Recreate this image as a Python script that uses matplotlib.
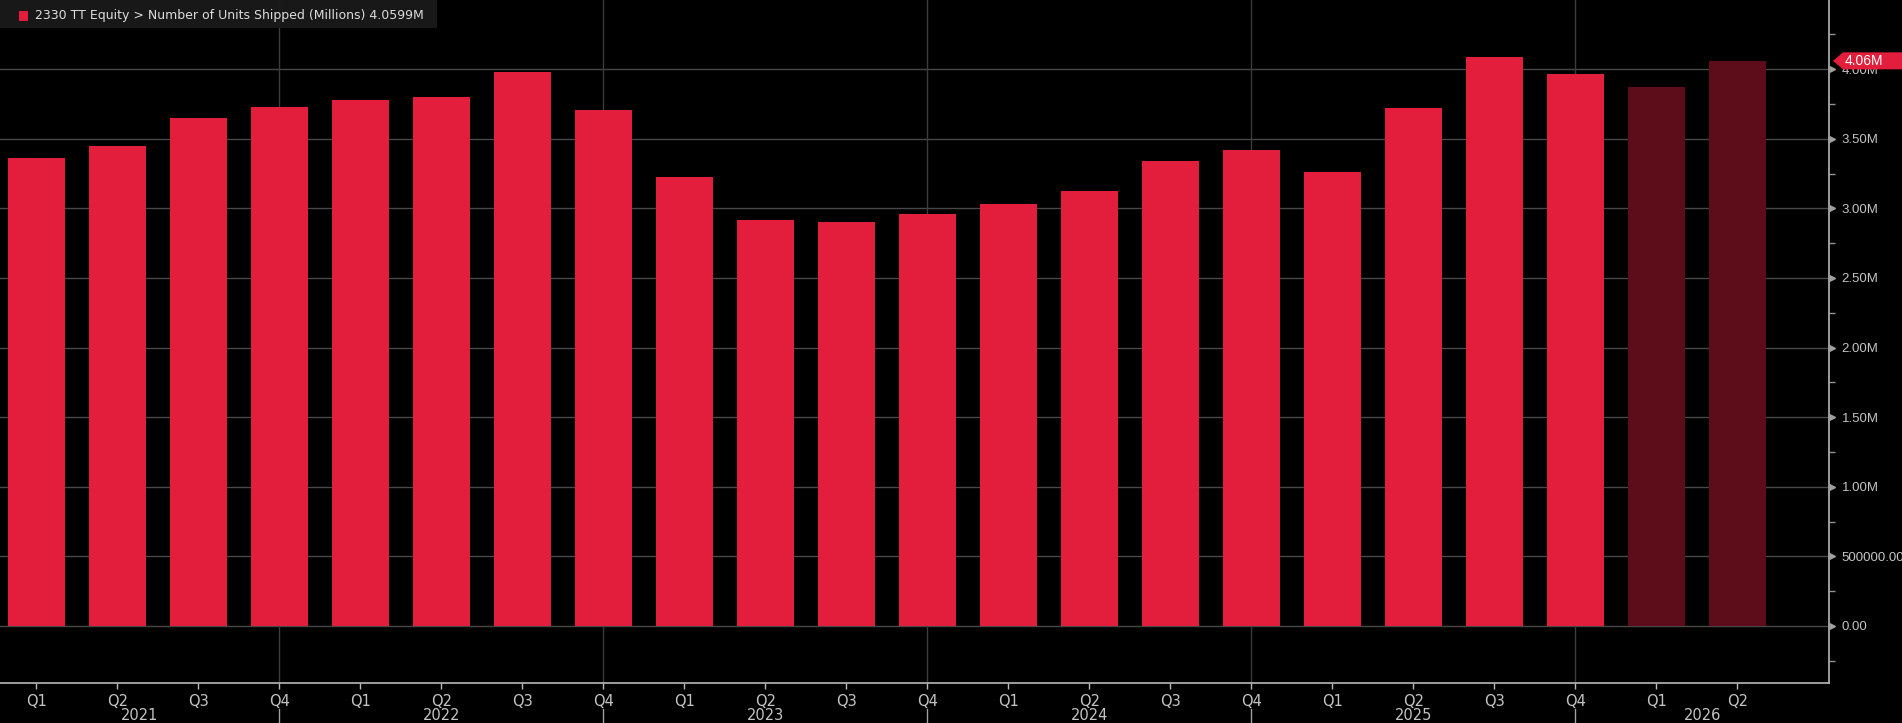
import matplotlib
matplotlib.use("Agg")
import matplotlib.pyplot as plt
from matplotlib.patches import Polygon, Rectangle
from matplotlib.transforms import blended_transform_factory

# ---- data ----
quarters = ["Q1", "Q2", "Q3", "Q4"] * 5 + ["Q1", "Q2"]
years = ["2021", "2022", "2023", "2024", "2025", "2026"]
units_m = [3.364, 3.450, 3.651, 3.730, 3.780, 3.801, 3.981, 3.708,
           3.227, 2.919, 2.904, 2.962, 3.033, 3.127, 3.342, 3.421,
           3.261, 3.722, 4.089, 3.966, 3.873, 4.0599]
is_estimate = [False] * 20 + [True, True]
ytick_vals = [0.0, 0.5, 1.0, 1.5, 2.0, 2.5, 3.0, 3.5, 4.0]
ytick_labels = ["0.00", "500000.00", "1.00M", "1.50M", "2.00M", "2.50M",
                "3.00M", "3.50M", "4.00M"]
legend_text = "2330 TT Equity > Number of Units Shipped (Millions) 4.0599M"
last_label = "4.06M"

RED = "#e31e3c"
DARK = "#5d0c19"
GRID = "#3c3c3c"
AXC = "#b8b8b8"
TXT = "#c4c4c4"
NARROW = ["DejaVu Sans Condensed", "DejaVu Sans"]

W, H = 1902, 723
fig = plt.figure(figsize=(W / 100, H / 100), dpi=100, facecolor="black")
ax = fig.add_axes([0, 1 - 683 / H, 1829 / W, 683 / H])
ax.set_facecolor("black")

n = len(units_m)
xs = list(range(n))
colors = [DARK if e else RED for e in is_estimate]
ax.bar(xs, units_m, width=0.70, color=colors, zorder=2)

ax.set_xlim(-0.45, 22.13)
ax.set_ylim(-0.41, 4.497)

# horizontal grid at major ticks
for v in ytick_vals:
    ax.axhline(v, color="#484848", lw=1.0, zorder=1)
# vertical year dividers at Q4 positions
q4_pos = [i for i, q in enumerate(quarters) if q == "Q4"]
for p in q4_pos:
    ax.axvline(p, color=GRID, lw=1.0, zorder=1)

# spines
for s in ["top", "left"]:
    ax.spines[s].set_visible(False)
ax.spines["right"].set_color(AXC)
ax.spines["bottom"].set_color(AXC)
ax.spines["right"].set_linewidth(1.2)
ax.spines["bottom"].set_linewidth(1.2)

# y axis on right
ax.yaxis.tick_right()
ax.set_yticks(ytick_vals)
ax.set_yticklabels(ytick_labels)
ax.set_yticks([-0.25, 0.25, 0.75, 1.25, 1.75, 2.25, 2.75, 3.25, 3.75, 4.25], minor=True)
ax.tick_params(axis="y", which="major", length=0, pad=9, labelsize=9.5,
               labelcolor=TXT)
ax.tick_params(axis="y", which="minor", length=4, width=1, color="#909090",
               direction="out")
for lab in ax.get_yticklabels():
    lab.set_fontfamily(["Liberation Sans", "DejaVu Sans"])
# triangle markers for major ticks
tr = blended_transform_factory(ax.transAxes, ax.transData)
ax.plot([1.0015] * len(ytick_vals), ytick_vals, marker=">", ls="none",
        ms=5, color="#a0a0a0", transform=tr, clip_on=False, zorder=5)

# x axis
ax.set_xticks(xs)
ax.set_xticklabels(quarters)
ax.tick_params(axis="x", which="major", length=4, width=1, color=AXC,
               pad=4, labelsize=10.5, labelcolor=TXT)
for lab in ax.get_xticklabels():
    lab.set_fontfamily(NARROW)

# year labels + divider ticks
trx = blended_transform_factory(ax.transData, fig.transFigure)
edges = [-0.45] + q4_pos + [22.13]
for i, yr in enumerate(years):
    c = (edges[i] + edges[i + 1]) / 2
    fig.text(c, 1 - 715 / H, yr, transform=trx, ha="center", va="center",
             fontsize=10.5, color=TXT, family=NARROW)
for p in q4_pos:
    fig.add_artist(plt.Line2D([p, p], [1 - 709 / H, 0], transform=trx,
                              color="#a0a0a0", lw=1))

# legend box
fig.add_artist(Rectangle((0, 1 - 28 / H), 437 / W, 28 / H, transform=fig.transFigure,
                         facecolor="#1b1b1b", edgecolor="none", alpha=0.92, zorder=10))
fig.add_artist(Rectangle((19 / W, 1 - 21 / H), 9 / W, 10 / H, transform=fig.transFigure,
                         facecolor=RED, edgecolor="none", zorder=11))
fig.text(35 / W, 1 - 15.5 / H, legend_text, ha="left", va="center", fontsize=9,
         color="#dcdcdc", zorder=12, family=["DejaVu Sans"])

# last value tag
fig.canvas.draw()
yd = ax.transData.transform((0, units_m[-1]))[1]
yfig = yd / H
x0 = 1833 / W
xa = 1843 / W
hh = 8.5 / H
tag = Polygon([(x0, yfig), (xa, yfig + hh), (1.0, yfig + hh), (1.0, yfig - hh), (xa, yfig - hh)],
              closed=True, transform=fig.transFigure, facecolor=RED, edgecolor="none", zorder=20)
fig.add_artist(tag)
fig.text(1845 / W, yfig, last_label, ha="left", va="center", fontsize=10,
         color="white", zorder=21, family=["Liberation Sans", "DejaVu Sans"])

fig.savefig("out.png", dpi=100, facecolor="black")
